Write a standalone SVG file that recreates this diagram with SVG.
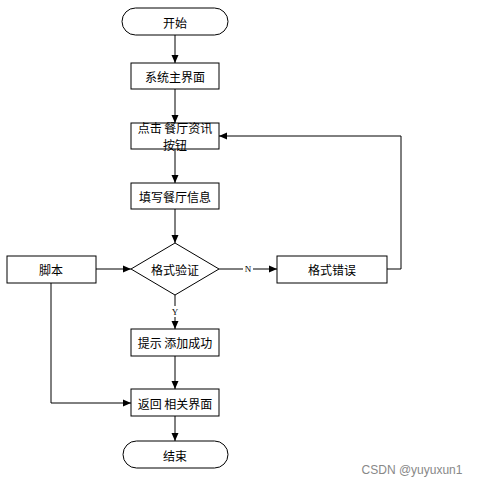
<svg xmlns="http://www.w3.org/2000/svg" width="481" height="485" viewBox="0 0 481 485">
<style>
.box{fill:#fff;stroke:#000;stroke-width:1}
.t{font-family:"Noto Sans CJK SC","Liberation Sans",sans-serif;font-size:12px;fill:#000;text-anchor:middle;dominant-baseline:central}
.lbl{font-family:"Liberation Serif",serif;font-size:9px;fill:#000;text-anchor:middle;dominant-baseline:central}
.c{fill:none;stroke:#000;stroke-width:1}
</style>
<defs>
<marker id="ah" markerWidth="8" markerHeight="8" refX="8" refY="4" orient="auto" markerUnits="userSpaceOnUse">
<path d="M0,0.5 L8,4 L0,7.5 Z" fill="#000"/>
</marker>
</defs>
<rect width="481" height="485" fill="#fff"/>
<g id="connectors">
<line class="c" x1="175" y1="35" x2="175" y2="63" marker-end="url(#ah)"/>
<line class="c" x1="175" y1="89" x2="175" y2="123" marker-end="url(#ah)"/>
<line class="c" x1="175" y1="149" x2="175" y2="183" marker-end="url(#ah)"/>
<line class="c" x1="175" y1="209" x2="175" y2="243" marker-end="url(#ah)"/>
<line class="c" x1="96" y1="269" x2="131" y2="269" marker-end="url(#ah)"/>
<line class="c" x1="219" y1="269" x2="277" y2="269" marker-end="url(#ah)"/>
<polyline class="c" points="387,269 401,269 401,136 219,136" stroke="#555" marker-end="url(#ah)"/>
<line class="c" x1="175" y1="295" x2="175" y2="329" marker-end="url(#ah)"/>
<line class="c" x1="175" y1="356" x2="175" y2="389" marker-end="url(#ah)"/>
<polyline class="c" points="51,283 51,403 131,403" marker-end="url(#ah)"/>
<line class="c" x1="175" y1="416" x2="175" y2="441" marker-end="url(#ah)"/>
<rect x="243" y="264" width="10" height="10" fill="#fff"/>
<text class="lbl" x="248" y="269">N</text>
<rect x="170" y="306" width="10" height="11" fill="#fff"/>
<text class="lbl" x="175" y="312">Y</text>
</g>
<g id="start">
<rect class="box" x="122" y="8" width="106" height="27" rx="13.5"/>
<text class="t" x="175" y="22">开始</text>
</g>
<g id="main">
<rect class="box" x="131" y="63" width="88" height="26"/>
<text class="t" x="175" y="76">系统主界面</text>
</g>
<g id="click">
<rect class="box" x="131" y="123" width="88" height="26"/>
<text class="t" x="175" y="127">点击 餐厅资讯</text>
<text class="t" x="175" y="144">按钮</text>
</g>
<g id="fill">
<rect class="box" x="131" y="183" width="88" height="26"/>
<text class="t" x="175" y="196">填写餐厅信息</text>
</g>
<g id="check">
<polygon class="box" points="175,243 219,269 175,295 131,269"/>
<text class="t" x="175" y="269">格式验证</text>
</g>
<g id="script">
<rect class="box" x="7" y="256" width="89" height="27"/>
<text class="t" x="51" y="269">脚本</text>
</g>
<g id="error">
<rect class="box" x="277" y="256" width="110" height="27"/>
<text class="t" x="332" y="269">格式错误</text>
</g>
<g id="success">
<rect class="box" x="131" y="329" width="88" height="27"/>
<text class="t" x="175" y="342">提示 添加成功</text>
</g>
<g id="back">
<rect class="box" x="131" y="389" width="88" height="27"/>
<text class="t" x="175" y="403">返回 相关界面</text>
</g>
<g id="end">
<rect class="box" x="123" y="441" width="105" height="27" rx="13.5"/>
<text class="t" x="175" y="455">结束</text>
</g>
<text x="412" y="470" font-family="Liberation Sans,sans-serif" font-size="12" fill="#888" text-anchor="middle" dominant-baseline="central">CSDN @yuyuxun1</text>
</svg>
